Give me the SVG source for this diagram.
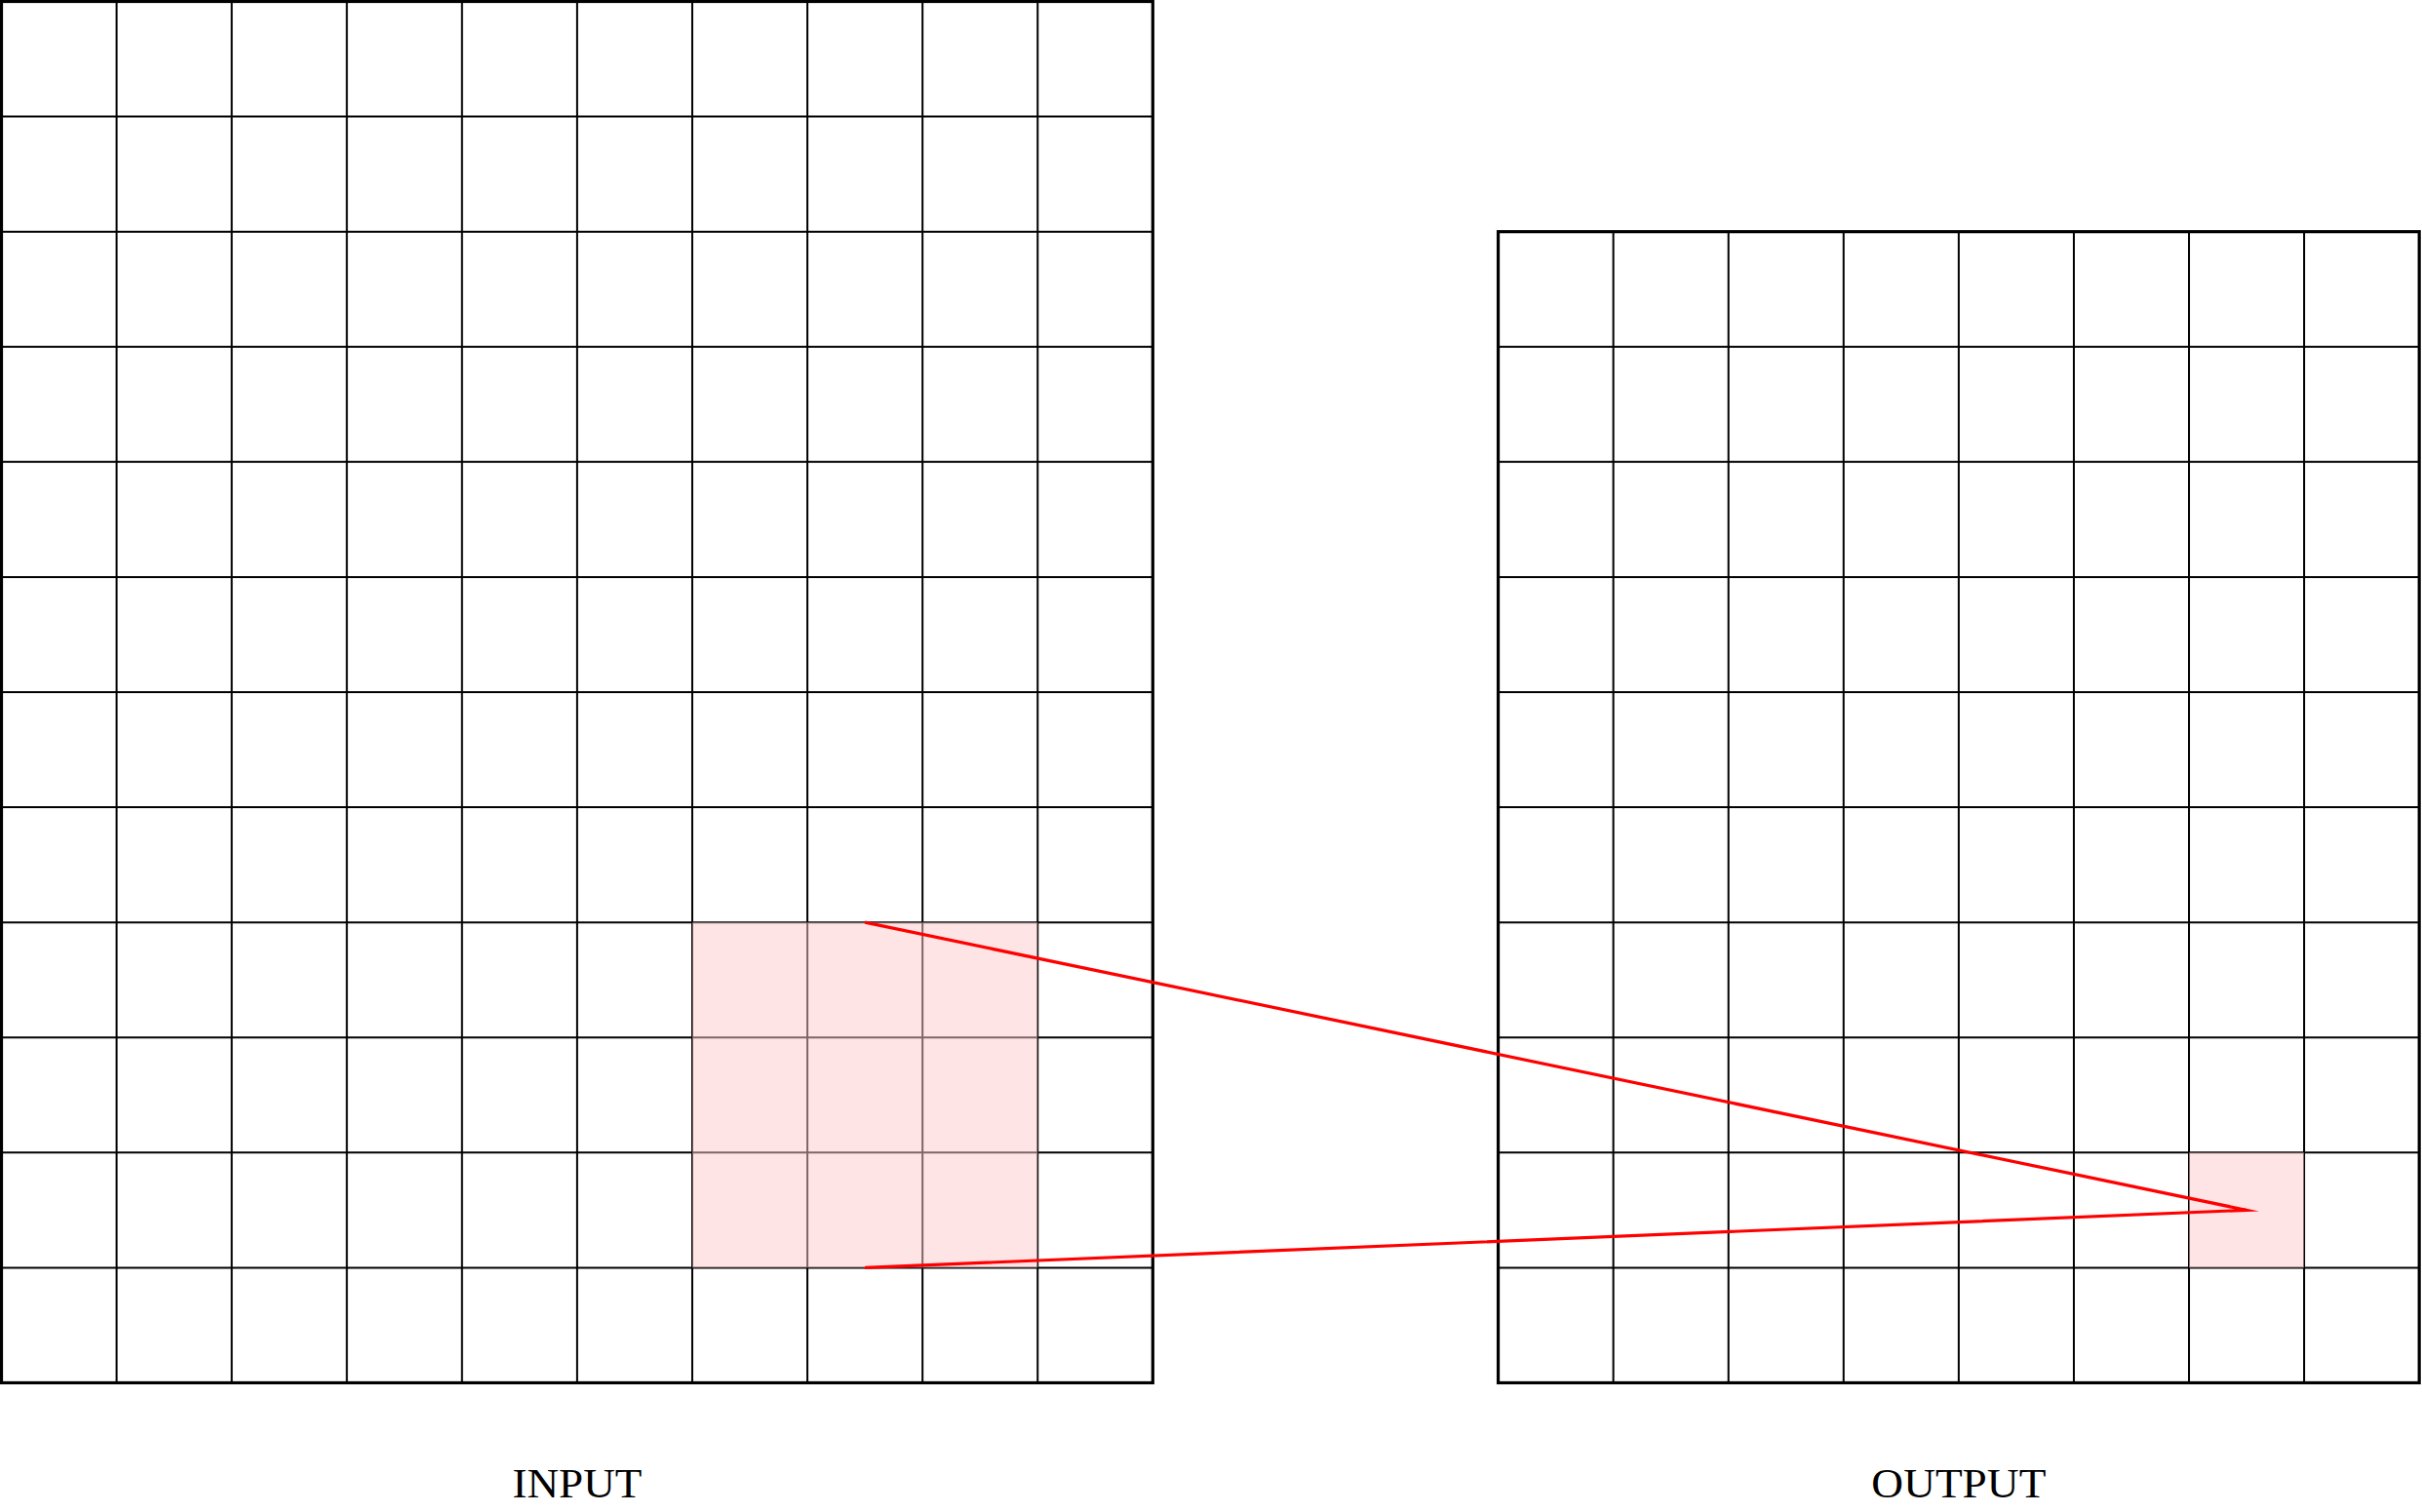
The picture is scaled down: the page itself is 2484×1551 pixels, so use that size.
<svg xmlns="http://www.w3.org/2000/svg" width="2484" height="1551" viewBox="0 0 2484 1551">
<style>
.inner{fill:none;stroke:#000;stroke-width:2}
.border{fill:none;stroke:#000;stroke-width:3.2}
.hl{fill:rgb(255,201,206);fill-opacity:0.5;stroke:none}
.link{fill:none;stroke:#ff0000;stroke-width:3.2;stroke-linejoin:miter;stroke-miterlimit:10}
.lbl{font-family:"Liberation Serif","DejaVu Serif",serif;font-size:42px;fill:#000;text-anchor:middle}
</style>
<rect width="2484" height="1551" fill="#fff"/>
<g id="input" transform="translate(1.5,1.5)">
<path class="inner" d="M118.08 0V1416.96M236.16 0V1416.96M354.24 0V1416.96M472.32 0V1416.96M590.4 0V1416.96M708.48 0V1416.96M826.56 0V1416.96M944.64 0V1416.96M1062.72 0V1416.96M0 118.08H1180.8M0 236.16H1180.8M0 354.24H1180.8M0 472.32H1180.8M0 590.4H1180.8M0 708.48H1180.8M0 826.56H1180.8M0 944.64H1180.8M0 1062.72H1180.8M0 1180.8H1180.8M0 1298.88H1180.8"/>
<rect class="border" x="0" y="0" width="1180.8" height="1416.96"/>
<rect class="hl" x="708.48" y="944.64" width="354.24" height="354.24"/>
</g>
<g id="output" transform="translate(1536.54,237.66)">
<path class="inner" d="M118.08 0V1180.8M236.16 0V1180.8M354.24 0V1180.8M472.32 0V1180.8M590.4 0V1180.8M708.48 0V1180.8M826.56 0V1180.8M0 118.08H944.64M0 236.16H944.64M0 354.24H944.64M0 472.32H944.64M0 590.4H944.64M0 708.48H944.64M0 826.56H944.64M0 944.64H944.64M0 1062.72H944.64"/>
<rect class="border" x="0" y="0" width="944.64" height="1180.8"/>
<rect class="hl" x="708.48" y="944.64" width="118.08" height="118.08"/>
</g>
<g id="connectors">
<polyline class="link" points="887.1,946.14 2304.06,1241.34 887.1,1300.38"/>
</g>
<g id="labels">
<text class="lbl" x="591.9" y="1536" textLength="133" lengthAdjust="spacingAndGlyphs">INPUT</text>
<text class="lbl" x="2008.86" y="1536" textLength="179" lengthAdjust="spacingAndGlyphs">OUTPUT</text>
</g>
</svg>
